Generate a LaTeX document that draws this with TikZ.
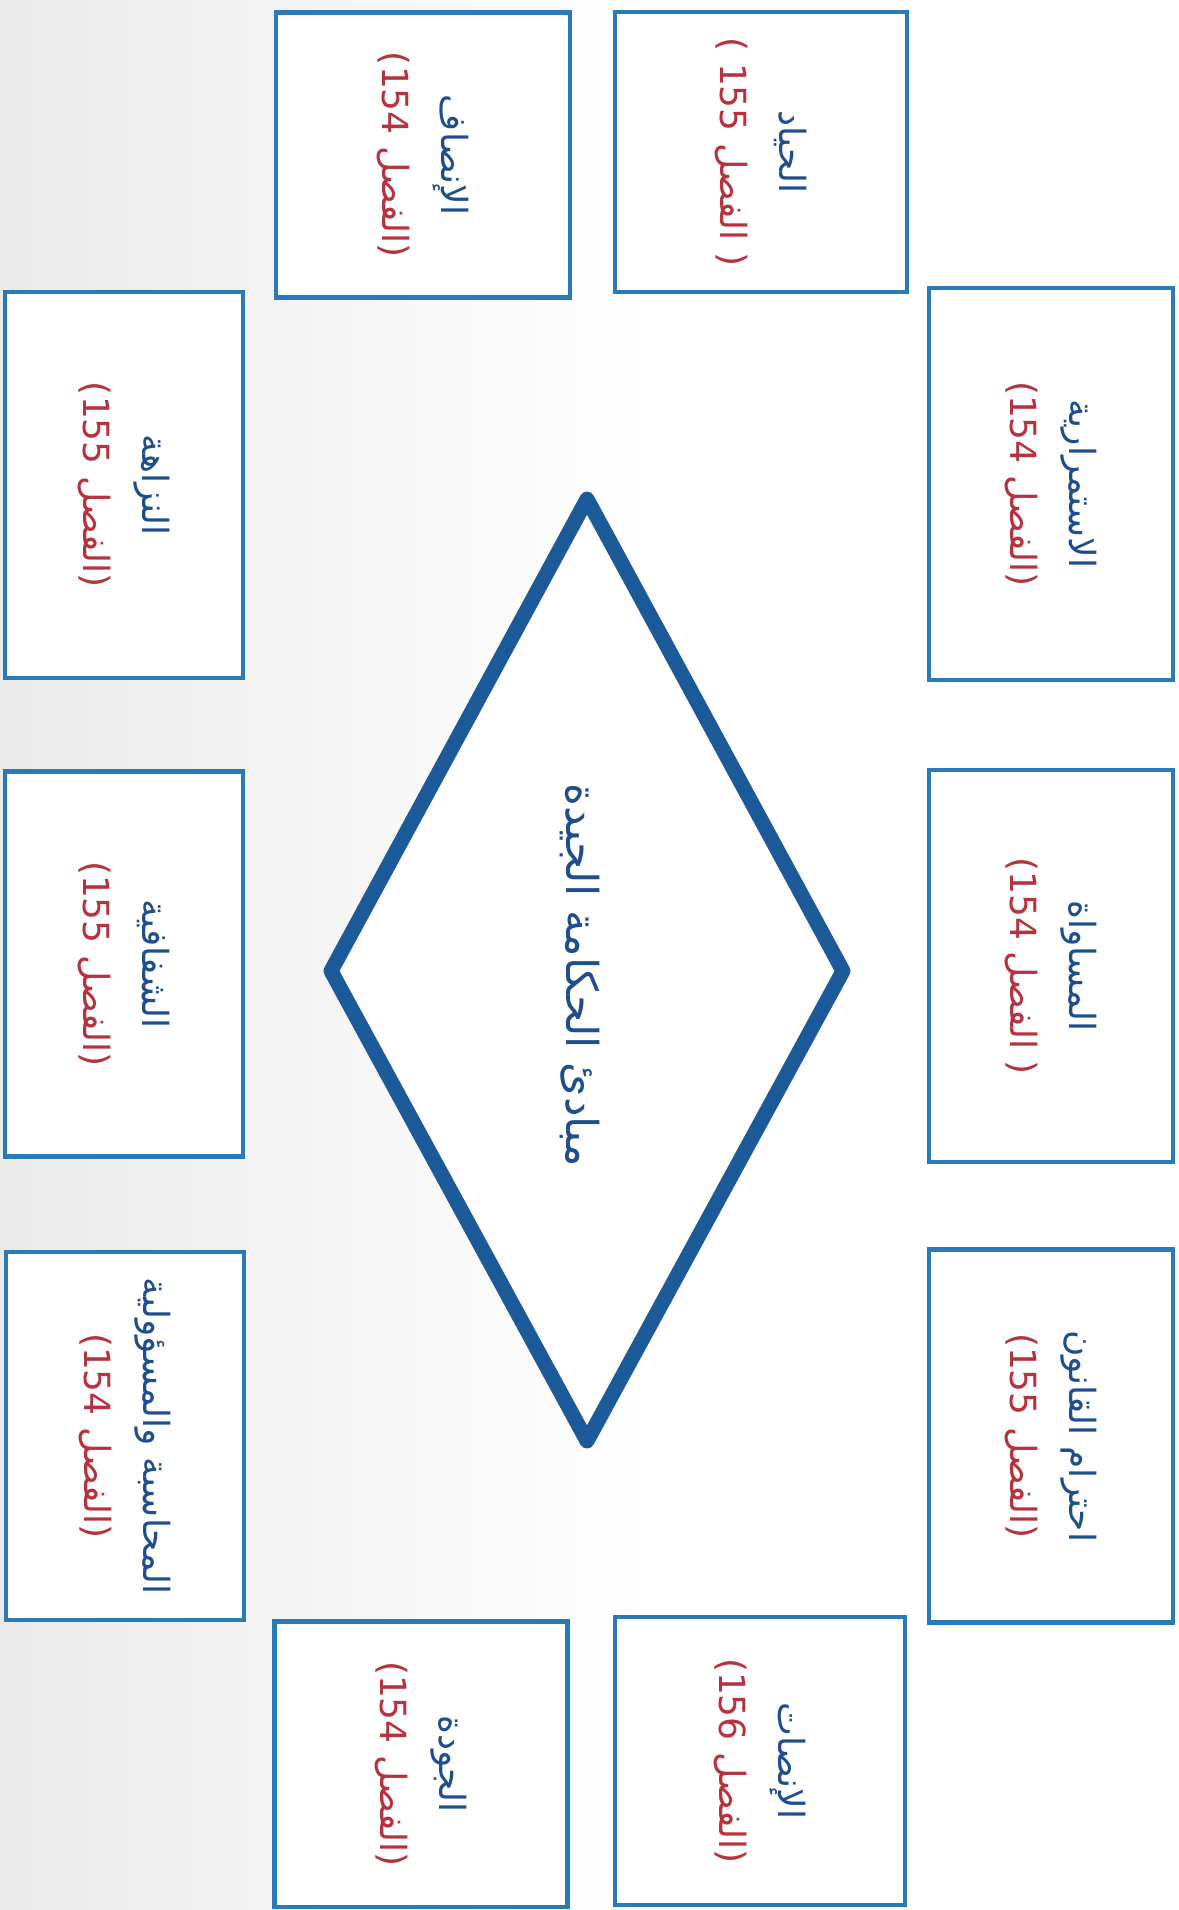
\documentclass[tikz,border=0pt]{standalone}
\usepackage{fontspec}
\newfontfamily\arabicfont[Script=Arabic]{DejaVu Sans}
\TeXXeTstate=1
\definecolor{boxblue}{HTML}{2A7AB8}
\definecolor{diamblue}{HTML}{1D5A9A}
\definecolor{tblue}{HTML}{1F4E8C}
\definecolor{tred}{HTML}{B5323E}
\tikzset{
  pbox/.style={draw=boxblue, line width=2.3pt, fill=white, inner sep=0pt},
  ptext/.style={rotate=-90, align=center, inner sep=0pt, font=\arabicfont\fontsize{20.5}{34}\selectfont},
  diam/.style={draw=diamblue, line width=8.5pt, line join=round, fill=white},
  dtext/.style={rotate=-90, inner sep=0pt, text=tblue, font=\arabicfont\fontsize{25}{30}\selectfont}
}
\newcommand\principle[7]{%
  \node[pbox, minimum width=#4*0.02cm, minimum height=#5*0.02cm] (#1) at (#2,#3) {};
  \node[ptext] (#1t) at (#1) {\textcolor{tblue}{\beginR #6\endR}\\\textcolor{tred}{\beginR #7\endR}};}
\begin{document}
\begin{tikzpicture}[x=0.02cm,y=-0.02cm]
\useasboundingbox (0,0) rectangle (1178,1910);
\fill[white] (0,0) rectangle (1178,1910);
\shade[left color=black!8, right color=white] (0,0) rectangle (650,1910);
% diamond
\coordinate (dT) at (587,499);
\coordinate (dR) at (843,971);
\coordinate (dB) at (587,1441);
\coordinate (dL) at (331,971);
\draw[diam] (dT) -- (dR) -- (dB) -- (dL) -- cycle;
\node[dtext] (title) at (580,975) {\beginR مبادئ الحكامة الجيدة\endR};
% boxes
\principle{hiyad}{761}{152}{292}{280}{الحياد}{\beginR( الفصل \beginL155\endL{} )\endR}
\principle{insaf}{423}{155}{294}{285}{الإنصاف}{\beginR(الفصل \beginL154\endL{})\endR}
\principle{istim}{1051}{484}{244}{392}{الاستمرارية}{\beginR(الفصل \beginL154\endL{})\endR}
\principle{musaw}{1051}{966}{244}{392}{المساواة}{\beginR( الفصل \beginL154\endL{})\endR}
\principle{ihtir}{1051}{1436}{244}{373}{\beginR احترام القانون\endR}{\beginR(الفصل \beginL155\endL{})\endR}
\principle{nazah}{124}{485}{238}{386}{النزاهة}{\beginR(الفصل \beginL155\endL{})\endR}
\principle{shaf}{124}{964}{238}{385}{الشفافية}{\beginR(الفصل \beginL155\endL{})\endR}
\principle{muhas}{125}{1436}{238}{368}{\beginR المحاسبة والمسؤولية\endR}{\beginR(الفصل \beginL154\endL{})\endR}
\principle{insat}{760}{1761}{290}{288}{الإنصات}{\beginR(الفصل \beginL156\endL{})\endR}
\principle{jawda}{421}{1764}{293}{285}{الجودة}{\beginR(الفصل \beginL154\endL{})\endR}
\end{tikzpicture}
\end{document}
